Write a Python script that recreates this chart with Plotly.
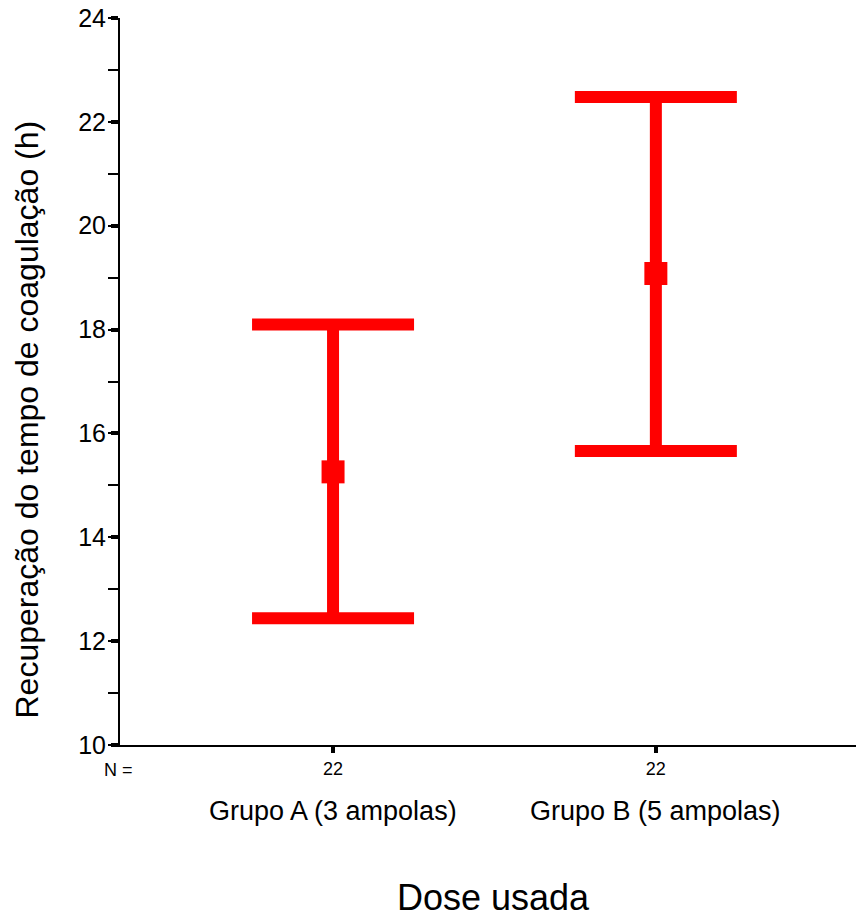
import plotly.graph_objects as go

groups = ["Grupo A (3 ampolas)", "Grupo B (5 ampolas)"]
n_values = ["22", "22"]
means = [15.26, 19.08]
upper = [18.10, 22.48]
lower = [12.44, 15.66]

err_plus = [u - m for u, m in zip(upper, means)]
err_minus = [m - l for m, l in zip(means, lower)]

RED = "#FF0000"
FONT = "Arial, Liberation Sans, sans-serif"

fig = go.Figure()
fig.add_trace(go.Scatter(
    x=groups, y=means, mode="markers",
    marker=dict(symbol="square", size=23, color=RED),
    error_y=dict(type="data", symmetric=False, array=err_plus, arrayminus=err_minus,
                 color=RED, thickness=12, width=81),
    showlegend=False, hoverinfo="skip",
))

annotations = []
for g in groups:
    annotations.append(dict(x=g, xref="x", y=0, yref="paper", yanchor="middle",
                            yshift=-66, text=g, showarrow=False,
                            font=dict(size=27, color="black", family=FONT)))
annotations.append(dict(x=0, xref="paper", y=0, yref="paper", xanchor="right",
                        yanchor="middle", xshift=15, yshift=-25, text="N =", showarrow=False,
                        font=dict(size=18, color="black", family=FONT)))
annotations.append(dict(x=0.5, xref="paper", y=0, yref="paper", xanchor="center",
                        yanchor="middle", xshift=5, yshift=-152, text="Dose usada", showarrow=False,
                        font=dict(size=36, color="black", family=FONT)))
annotations.append(dict(x=0, xref="paper", y=0.5, yref="paper", xanchor="center",
                        yanchor="middle", xshift=-94, yshift=-38, textangle=-90,
                        text="Recuperação do tempo de coagulação (h)", showarrow=False,
                        font=dict(size=32, color="black", family=FONT)))

fig.update_layout(
    width=856, height=918,
    margin=dict(l=120, r=0, t=18, b=173),
    paper_bgcolor="white", plot_bgcolor="white",
    font=dict(family=FONT, color="black"),
    annotations=annotations,
    xaxis=dict(
        type="category", range=[-0.66, 1.62],
        tickvals=groups, ticktext=n_values,
        tickfont=dict(size=18, family=FONT, color="black"),
        ticks="outside", ticklen=6, tickwidth=4, tickcolor="black",
        showline=True, linecolor="black", linewidth=2,
        showgrid=False, zeroline=False,
    ),
    yaxis=dict(
        range=[10, 24], tickvals=[10, 12, 14, 16, 18, 20, 22, 24],
        tickfont=dict(size=25, family=FONT, color="black"),
        ticks="outside", ticklen=7, tickwidth=4, tickcolor="black",
        minor=dict(dtick=1, ticks="outside", ticklen=10, tickwidth=1.5, tickcolor="black", showgrid=False),
        showline=True, linecolor="black", linewidth=2,
        showgrid=False, zeroline=False,
    ),
)

fig.write_html("out.html")
